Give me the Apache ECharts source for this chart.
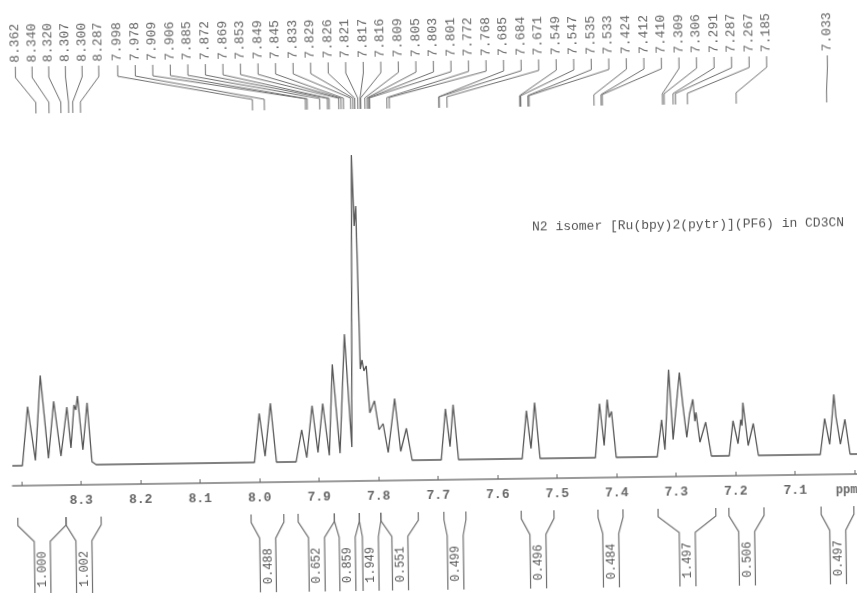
<!DOCTYPE html>
<html>
<head>
<meta charset="utf-8">
<script src="https://cdn.jsdelivr.net/npm/echarts@6/dist/echarts.min.js"></script>
<style>
  html, body { margin: 0; padding: 0; background: #fff; overflow: hidden; }
  #c { width: 857px; height: 593px; transform: rotate(-0.8deg); transform-origin: 428.5px 296.5px; }
</style>
</head>
<body>
<div id="c"></div>
<script>
// ---- spectrum trace (ppm, intensity) ----
const spectrumPpm = [
  8.415, 8.398, 8.395, 8.388, 8.376, 8.366, 8.354, 8.344, 8.333, 8.322, 8.316, 8.310, 8.307, 8.304, 8.296, 8.288, 8.281, 8.274,
  8.008, 7.999, 7.990, 7.980, 7.971,
  7.938, 7.928, 7.920, 7.910, 7.901, 7.892, 7.882, 7.875, 7.864, 7.854, 7.844, 7.838, 7.835, 7.832, 7.828, 7.825, 7.822, 7.818, 7.813, 7.805, 7.798, 7.791, 7.783, 7.771, 7.762, 7.752, 7.743,
  7.694, 7.686, 7.679, 7.673, 7.665,
  7.558, 7.550, 7.543, 7.536, 7.528,
  7.435, 7.427, 7.420, 7.414, 7.411, 7.407, 7.400,
  7.331, 7.323, 7.318, 7.310, 7.304, 7.292, 7.287, 7.281, 7.276, 7.270, 7.267, 7.265, 7.259, 7.249, 7.240,
  7.210, 7.203, 7.195, 7.190, 7.188, 7.186, 7.178, 7.169, 7.161,
  7.057, 7.049, 7.041, 7.036, 7.033, 7.030, 7.023, 7.015, 7.007, 6.995
];
const spectrumInt = [
  0, 0, 2, 59, 5, 90, 7, 64, 9, 58, 17, 60, 55, 69, 15, 62, 3, 0,
  0, 49, 6, 59, 0,
  0, 32, 4, 56, 9, 58, 6, 97, 8, 127, 14, 306, 235, 255, 92, 101, 90, 95, 48, 60, 31, 37, 8, 62, 9, 32, 0,
  0, 51, 13, 55, 0,
  0, 48, 10, 56, 0,
  0, 54, 12, 58, 40, 46, 0,
  0, 37, 7, 87, 17, 84, 52, 19, 42, 57, 35, 44, 14, 34, 0,
  0, 35, 12, 36, 30, 53, 10, 32, 0,
  0, 36, 10, 40, 60, 38, 10, 35, 0, 0
];

// ---- peak pick labels ----
const peakLabelsA = ['8.362', '8.340', '8.320', '8.307', '8.300', '8.287'];
const peakLabelsB = ['7.998', '7.978', '7.909', '7.906', '7.885', '7.872', '7.869', '7.853', '7.849', '7.845',
  '7.833', '7.829', '7.826', '7.821', '7.817', '7.816', '7.809', '7.805', '7.803', '7.801',
  '7.772', '7.768', '7.685', '7.684', '7.671', '7.549', '7.547', '7.535', '7.533',
  '7.424', '7.412', '7.410', '7.309', '7.306', '7.291', '7.287', '7.267', '7.185'];
const peakLabelsC = ['7.033'];

// ---- integrals ----
const integralStart = [8.407, 8.326, 8.015, 7.936, 7.875, 7.833, 7.797, 7.691, 7.561, 7.432, 7.331, 7.212, 7.057];
const integralEnd   = [8.326, 8.267, 7.960, 7.875, 7.833, 7.797, 7.734, 7.654, 7.506, 7.390, 7.234, 7.153, 7.002];
const integralValues = ['1.000', '1.002', '0.488', '0.652', '0.859', '1.949', '0.551', '0.499', '0.496', '0.484', '1.497', '0.506', '0.497'];

// ---- axis ----
const tickValues = [7.0, 7.1, 7.2, 7.3, 7.4, 7.5, 7.6, 7.7, 7.8, 7.9, 8.0, 8.1, 8.2, 8.3, 8.4];
const labelValues = [7.1, 7.2, 7.3, 7.4, 7.5, 7.6, 7.7, 7.8, 7.9, 8.0, 8.1, 8.2, 8.3];
const titleText = 'N2 isomer [Ru(bpy)2(pytr)](PF6) in CD3CN';
const unitText = 'ppm';

const MONO = "'Liberation Mono', 'DejaVu Sans Mono', monospace";
const chart = echarts.init(document.getElementById('c'), null, { renderer: 'canvas' });

chart.setOption({
  animation: false,
  backgroundColor: '#fff',
  grid: { left: 10, right: 2, top: 120, bottom: 113 },
  xAxis: {
    type: 'value',
    inverse: true,
    min: 6.995,
    max: 8.415,
    splitLine: { show: false },
    axisLine: { show: true, onZero: false, lineStyle: { color: '#7a7a7a', width: 1.5 } },
    axisTick: { show: true, inside: true, length: 4, customValues: tickValues, lineStyle: { color: '#666' } },
    axisLabel: {
      show: true, customValues: labelValues, margin: 9,
      formatter: v => v.toFixed(1),
      fontFamily: MONO, fontSize: 13, fontWeight: 'bold', color: '#666'
    }
  },
  yAxis: { type: 'value', min: -20, max: 340, show: false },
  series: [{
    type: 'line',
    data: spectrumPpm.map((p, i) => [p, spectrumInt[i]]),
    showSymbol: false,
    symbol: 'none',
    lineStyle: { color: '#575757', width: 1.3 },
    silent: true
  }]
});

const toX = v => chart.convertToPixel({ xAxisIndex: 0 }, v);
const els = [];
const leaderShift = -3;
const LINE = '#707070';
const TXT = '#666';

function addPeakLabel(text, sx) {
  const ex = toX(parseFloat(text)) + leaderShift;
  els.push({
    type: 'text', x: sx, y: 57, rotation: Math.PI / 2,
    style: { text: text, x: 0, y: 0, align: 'left', verticalAlign: 'middle', fontFamily: MONO, fontSize: 13, fill: TXT }
  });
  els.push({
    type: 'polyline',
    shape: { points: [[sx, 61], [sx, 72], [ex, 97], [ex, 108]] },
    style: { stroke: LINE, lineWidth: 1, fill: null }
  });
}
peakLabelsA.forEach((t, i) => addPeakLabel(t, 18.6 + i * 16.67));
peakLabelsB.forEach((t, i) => addPeakLabel(t, 120.9 + i * 17.54));
peakLabelsC.forEach((t) => addPeakLabel(t, 830.6));

integralValues.forEach((val, i) => {
  const xa = toX(integralStart[i]);
  const xb = toX(integralEnd[i]);
  const c = (xa + xb) / 2;
  els.push({
    type: 'polyline',
    shape: { points: [[xa, 512], [xa, 520], [c - 8, 536], [c - 8, 590]] },
    style: { stroke: LINE, lineWidth: 1.2, fill: null }
  });
  els.push({
    type: 'polyline',
    shape: { points: [[xb, 512], [xb, 520], [c + 8, 536], [c + 8, 590]] },
    style: { stroke: LINE, lineWidth: 1.2, fill: null }
  });
  els.push({
    type: 'text', x: c, y: 564, rotation: Math.PI / 2,
    style: { text: val, x: 0, y: 0, align: 'center', verticalAlign: 'middle', fontFamily: MONO, fontSize: 12, fill: '#555' }
  });
});

els.push({
  type: 'text', x: 533, y: 229,
  style: { text: titleText, x: 0, y: 0, align: 'left', verticalAlign: 'middle', fontFamily: MONO, fontSize: 13, fill: '#555' }
});
els.push({
  type: 'text', x: 833, y: 496,
  style: { text: unitText, x: 0, y: 0, align: 'left', verticalAlign: 'middle', fontFamily: MONO, fontSize: 12, fontWeight: 'bold', fill: '#666' }
});

chart.setOption({ graphic: { elements: els } });
</script>
</body>
</html>
